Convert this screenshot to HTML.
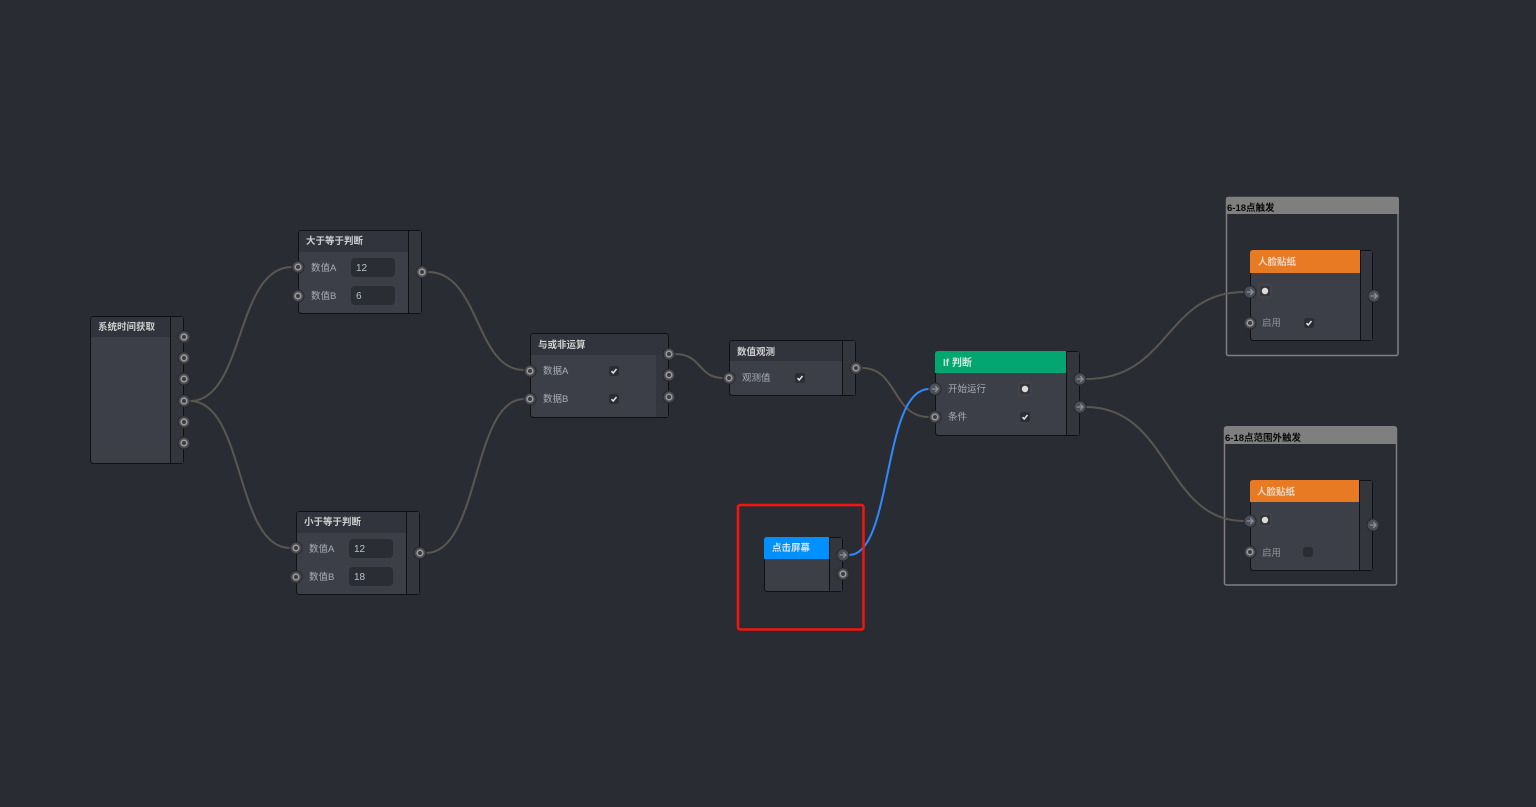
<!DOCTYPE html>
<html><head><meta charset="utf-8"><style>
html,body{margin:0;padding:0;background:#2a2c33;width:1536px;height:807px;overflow:hidden}
svg{display:block}
text{font-family:"Liberation Sans","Noto Sans CJK SC",sans-serif;font-size:9.5px;fill:#a9adb4}
.h{font-weight:700;fill:#cfcfcf}
.g{font-weight:700;fill:#0a0a0a}
.v{fill:#b4c0d0;font-size:10px}
.n{fill:#3c3f48;stroke:#101114;stroke-width:1}
.hd{fill:#32343d}
.col{fill:#34363e}
.ln{stroke:#101114;stroke-width:1}
.w{fill:none;stroke:#59574f;stroke-width:2}
.inp{fill:#2b2d35}
</style></head><body>
<svg width="1536" height="807" viewBox="0 0 1536 807" xmlns="http://www.w3.org/2000/svg">
<defs>
<g id="p"><circle r="6.5" fill="#26272c"/><circle r="5.5" fill="#4a4b50"/><circle r="2.8" fill="#3b3c41" stroke="#9a9a9a" stroke-width="1.6"/></g>
<g id="a"><circle r="6.5" fill="#26272c"/><circle r="5.5" fill="#4c4f59"/><path d="M-3.200 0H3M0.300-2.800L3 0L0.300 2.800" fill="none" stroke="#8f9196" stroke-width="1.300"/></g>
<g id="c"><rect x="-5" y="-5" width="10" height="10" rx="2.500" fill="#2b2d35"/><path d="M-2.500 0.200L-0.800 2L2.500-2" fill="none" stroke="#e4e4e4" stroke-width="1.500"/></g>
<g id="d"><rect x="-6" y="-6" width="12" height="12" rx="2.500" fill="#35363b" stroke="#4a4b50"/><circle r="3.200" fill="#dedcd4"/></g>
</defs>
<rect width="1536" height="807" fill="#2a2c33"/>

<!-- groups -->
<rect x="1226.500" y="197.500" width="171.500" height="158" rx="2" fill="none" stroke="#7f7f7f" stroke-width="1.500"/>
<path d="M1226 214V199q0-2 2-2H1397q2 0 2 2V214Z" fill="#7f7f7f"/>
<text class="g" x="1227" y="211">6-18点触发</text>
<rect x="1224.500" y="427" width="172" height="158" rx="2" fill="none" stroke="#7f7f7f" stroke-width="1.500"/>
<path d="M1224 444V429q0-3 3-3H1394q3 0 3 3V444Z" fill="#7f7f7f"/>
<text class="g" x="1225" y="441">6-18点范围外触发</text>

<!-- wires -->
<path class="w" d="M190 401C245 401 235 267 292 267"/>
<path class="w" d="M190 401C245 401 235 548 290 548"/>
<path class="w" d="M428 272C480 272 475 370 524 370"/>
<path class="w" d="M426 553C480 553 472 399 524 399"/>
<path class="w" d="M675 354C702 354 698 378 723 378"/>
<path class="w" d="M862 368C898 368 892 417 929 417"/>
<path class="w" d="M1086 379C1170 379 1165 292 1244 292"/>
<path class="w" d="M1086 407C1170 407 1165 521 1244 521"/>
<path d="M849 555C893 555 882 389 929 389" fill="none" stroke="#2e8bff" stroke-width="2"/>

<!-- node 1 -->
<rect class="n" x="90.500" y="316.500" width="93" height="147" rx="3"/>
<path class="hd" d="M91 337V319.500q0-2.500 2.500-2.500H170V337Z"/>
<rect class="col" x="171" y="317" width="12" height="146"/>
<path class="ln" d="M170.500 316V464"/>
<text class="h" x="98" y="330">系统时间获取</text>
<use href="#p" x="184" y="337"/><use href="#p" x="184" y="358"/><use href="#p" x="184" y="379"/><use href="#p" x="184" y="401"/><use href="#p" x="184" y="422"/><use href="#p" x="184" y="443"/>

<!-- node 2 -->
<rect class="n" x="298.500" y="230.500" width="123" height="83" rx="3"/>
<path class="hd" d="M299 252V233.500q0-2.500 2.500-2.500H408V252Z"/>
<rect class="col" x="409" y="231" width="12" height="82"/>
<path class="ln" d="M408.500 230V314"/>
<text class="h" x="306" y="244">大于等于判断</text>
<text x="311" y="271">数值A</text><text x="311" y="299">数值B</text>
<rect class="inp" x="351" y="258" width="44" height="19" rx="4"/><rect class="inp" x="351" y="286" width="44" height="19" rx="4"/>
<text class="v" x="356" y="271">12</text><text class="v" x="356" y="299">6</text>
<use href="#p" x="298" y="267"/><use href="#p" x="298" y="296"/><use href="#p" x="422" y="272"/>

<!-- node 3 -->
<rect class="n" x="296.500" y="511.500" width="123" height="83" rx="3"/>
<path class="hd" d="M297 533V514.500q0-2.500 2.500-2.500H406V533Z"/>
<rect class="col" x="407" y="512" width="12" height="82"/>
<path class="ln" d="M406.500 511V595"/>
<text class="h" x="304" y="525">小于等于判断</text>
<text x="309" y="552">数值A</text><text x="309" y="580">数值B</text>
<rect class="inp" x="349" y="539" width="44" height="19" rx="4"/><rect class="inp" x="349" y="567" width="44" height="19" rx="4"/>
<text class="v" x="354" y="552">12</text><text class="v" x="354" y="580">18</text>
<use href="#p" x="296" y="548"/><use href="#p" x="296" y="577"/><use href="#p" x="420" y="553"/>

<!-- node 4 -->
<rect class="n" x="530.500" y="333.500" width="138" height="84" rx="3"/>
<path class="hd" d="M531 355V336.500q0-2.500 2.500-2.500H665.500q2.500 0 2.500 2.500V355Z"/>
<rect class="col" x="656" y="355" width="12" height="62"/>
<text class="h" x="538" y="348">与或非运算</text>
<text x="543" y="374">数据A</text><text x="543" y="402">数据B</text>
<use href="#c" x="614" y="371"/><use href="#c" x="614" y="399"/>
<use href="#p" x="530" y="371"/><use href="#p" x="530" y="399"/><use href="#p" x="669" y="354"/><use href="#p" x="669" y="375"/><use href="#p" x="669" y="397"/>

<!-- node 5 -->
<rect class="n" x="729.500" y="340.500" width="126" height="55" rx="3"/>
<path class="hd" d="M730 361V343.500q0-2.500 2.500-2.500H842V361Z"/>
<rect class="col" x="843" y="341" width="12" height="54"/>
<path class="ln" d="M842.500 340V396"/>
<text class="h" x="737" y="355">数值观测</text>
<text x="742" y="381">观测值</text>
<use href="#c" x="800" y="378"/>
<use href="#p" x="729" y="378"/><use href="#p" x="856" y="368"/>

<!-- if node -->
<rect class="n" x="935.500" y="351.500" width="144" height="84" rx="3"/>
<path d="M935 373V354q0-3 3-3H1066V373Z" fill="#03a671"/>
<rect class="col" x="1067" y="352" width="12" height="83"/>
<path class="ln" d="M1066.500 351V436"/>
<text class="h" x="943" y="366" style="fill:#cfe9dd;font-size:10px">If 判断</text>
<text x="948" y="392">开始运行</text><text x="948" y="420">条件</text>
<use href="#d" x="1025" y="389"/><use href="#c" x="1025" y="417"/>
<use href="#a" x="935" y="389"/><use href="#p" x="935" y="417"/><use href="#a" x="1080" y="379"/><use href="#a" x="1080" y="407"/>

<!-- click node -->
<rect class="n" x="764.500" y="537.500" width="78" height="54" rx="3"/>
<path d="M764 559V540q0-3 3-3H829V559Z" fill="#0090ff"/>
<rect class="col" x="830" y="538" width="12" height="53"/>
<path class="ln" d="M829.500 537V592"/>
<text class="h" x="772" y="551" style="fill:#cfe3f5">点击屏幕</text>
<use href="#a" x="843" y="555"/><use href="#p" x="843" y="574"/>
<rect x="738" y="505" width="125.500" height="124.500" rx="2" fill="none" stroke="#f8140c" stroke-width="2.500"/>

<!-- face 1 -->
<rect class="n" x="1250.500" y="250.500" width="122" height="90" rx="3"/>
<path d="M1250 273V253q0-3 3-3H1360V273Z" fill="#e77a22"/>
<rect class="col" x="1361" y="251" width="11" height="89"/>
<path class="ln" d="M1360.500 250V341"/>
<text class="h" x="1258" y="265" style="fill:#eed9c8">人脸贴纸</text>
<text x="1262" y="326" style="fill:#8f9298">启用</text>
<use href="#d" x="1265" y="291"/><use href="#c" x="1309" y="323"/>
<use href="#a" x="1250" y="292"/><use href="#p" x="1250" y="323"/><use href="#a" x="1374" y="296"/>

<!-- face 2 -->
<rect class="n" x="1250.500" y="480.500" width="122" height="90" rx="3"/>
<path d="M1250 502V483q0-3 3-3H1359V502Z" fill="#e77a22"/>
<rect class="col" x="1360" y="481" width="12" height="89"/>
<path class="ln" d="M1359.500 480V571"/>
<text class="h" x="1257" y="495" style="fill:#eed9c8">人脸贴纸</text>
<text x="1262" y="556" style="fill:#8f9298">启用</text>
<use href="#d" x="1265" y="520"/>
<rect x="1303" y="547" width="10" height="10" rx="2.500" fill="#2b2d35"/>
<use href="#a" x="1250" y="521"/><use href="#p" x="1250" y="552"/><use href="#a" x="1373" y="525"/>
</svg>
</body></html>
